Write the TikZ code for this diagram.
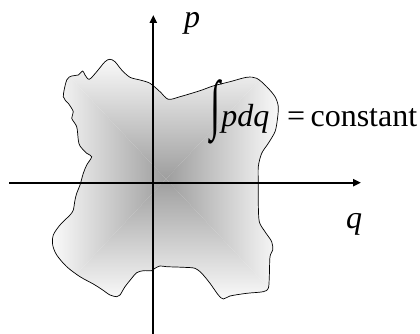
\documentclass[tikz,border=0pt]{standalone}
\usepackage{fontspec}
\setmainfont{Liberation Serif}
\usetikzlibrary{arrows.meta}
\begin{document}
\begin{tikzpicture}[x=1pt,y=-1pt,
  axis/.style={line width=2pt,-{Triangle[length=8pt,width=7pt]}},
  blobline/.style={line width=0.7pt,black},
  lbl/.style={inner sep=0pt,anchor=base west,font=\fontsize{32}{36}\selectfont}]
\useasboundingbox (0,0) rectangle (420,334);
\def\blob{plot[smooth cycle,tension=0.5] coordinates{
(63.3,96.7) (66.7,80) (71.7,76) (78.3,75) (82.7,71) (85,75) (89.3,79.3) (96.7,71.7) (105,61.7) (110,59.3) (115,61.7) (121.7,70) (130,77.3) (140,80) (150,83.3) (160,91.7) (168.3,99.3) (180,96.7) (200,90.7) (213,86) (230,81.7) (246.7,77.3) (256.7,78.3) (266.7,86.7) (275,96.7) (278.3,106.7) (277.3,120) (275,131.7) (268.3,143.3) (261.7,153.3) (258.3,166.7) (258.3,183.3) (258.3,203.3) (259.3,221.7) (265,231.7) (271.7,241.7) (272.7,250) (270,256.7) (269.3,276.7) (268.3,288.3) (263.3,291.7) (246.7,293.3) (230,296) (223.3,299) (218.3,295) (210,283.3) (201.7,273.3) (195,268.3) (183.3,267.3) (166.7,266.7) (160,266) (155,268.3) (151.7,270.7) (143.3,270.7) (136.7,272.7) (131.7,278.3) (125,286.7) (120,295) (116.7,296.7) (110,295) (101.7,289.3) (93.3,284) (80,276.7) (66.7,266.7) (56.7,255) (52.7,245) (53.3,235) (60,225) (70,215) (73.3,210) (75,200) (76.7,193.3) (80,185) (83.3,173.3) (86.7,165) (91.7,156.7) (86.7,153.3) (80,146) (78.3,140) (76.7,126.7) (71.7,118.3) (73.3,111.7) (68.3,103.3)}}
\colorlet{edgec}{black!2}
\colorlet{centc}{black!38}
\begin{scope}
\clip \blob;
\shade[top color=edgec,bottom color=centc] (52,58) -- (280,58) -- (166,179) -- cycle;
\shade[top color=centc,bottom color=edgec] (52,300) -- (280,300) -- (166,179) -- cycle;
\shade[left color=edgec,right color=centc] (52,58) -- (52,300) -- (166,179) -- cycle;
\shade[left color=centc,right color=edgec] (280,58) -- (280,300) -- (166,179) -- cycle;
\end{scope}
\draw[blobline] \blob;
\coordinate (xl) at (9,182.7);
\coordinate (xr) at (361,182.7);
\coordinate (yb) at (153.3,334);
\coordinate (yt) at (153.3,15);
\draw[axis] (xl) -- (xr);
\draw[axis] (yb) -- (yt);
\node[lbl] (plabel) at (184,28) {\textit{p}};
\node[lbl] (qlabel) at (346,228) {\textit{q}};
\node[lbl] (integ) at (210,127) {\scalebox{1.15}[2.05]{∫}\kern1pt\textit{pdq}};
\node[lbl] (const) at (287,127) {=\,constant};
\end{tikzpicture}
\end{document}
